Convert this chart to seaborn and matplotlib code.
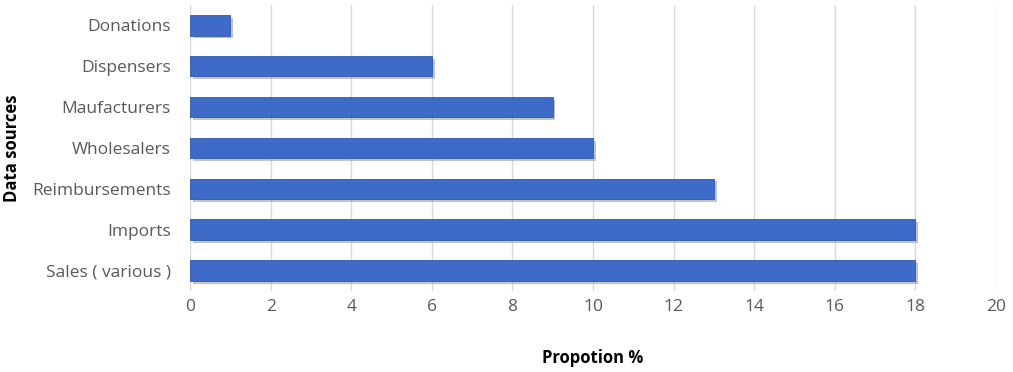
import matplotlib; matplotlib.use("Agg")
import matplotlib.pyplot as plt
import matplotlib.patheffects as pe
import pandas as pd
import seaborn as sns

sources = ["Donations", "Dispensers", "Maufacturers", "Wholesalers",
           "Reimbursements", "Imports", "Sales ( various )"]
proportion = [1, 6, 9, 10, 13, 18, 18]
x_ticks = [0, 2, 4, 6, 8, 10, 12, 14, 16, 18, 20]

df = pd.DataFrame({"source": sources, "proportion": proportion})

sns.set_theme(style="white")
plt.rcParams["font.family"] = ["Open Sans", "DejaVu Sans"]

fig = plt.figure(figsize=(10.13, 3.72), dpi=100)
ax = fig.add_axes([0.1876, 0.2177, 0.7956, 0.769])

sns.barplot(data=df, x="proportion", y="source", order=sources, orient="h",
            color="#3F6BC8", saturation=1, width=0.5, ax=ax, zorder=3)
for p in ax.patches:
    p.set_edgecolor("#2F59B0")
    p.set_linewidth(0.6)
    p.set_path_effects([pe.SimplePatchShadow(offset=(2, -2), shadow_rgbFace="#888888", alpha=0.5),
                        pe.Normal()])

ax.set_xlim(0, 20)
ax.set_xticks(x_ticks)
ax.set_ylim(6.5, -0.5)
ax.grid(axis="x", color="#D9D9D9", linewidth=1, zorder=0)
ax.grid(axis="y", visible=False)
for s in ax.spines.values():
    s.set_visible(False)
ax.tick_params(axis="both", length=0, labelsize=12.5, labelcolor="#595959")
ax.tick_params(axis="x", pad=6)
ax.tick_params(axis="y", pad=14)
ax.set_xlabel("Propotion %", fontsize=12, fontweight="bold", labelpad=24, color="black")
ax.set_ylabel("Data sources", fontsize=12, fontweight="bold", labelpad=8, color="black")

fig.savefig("out.png", dpi=100)
